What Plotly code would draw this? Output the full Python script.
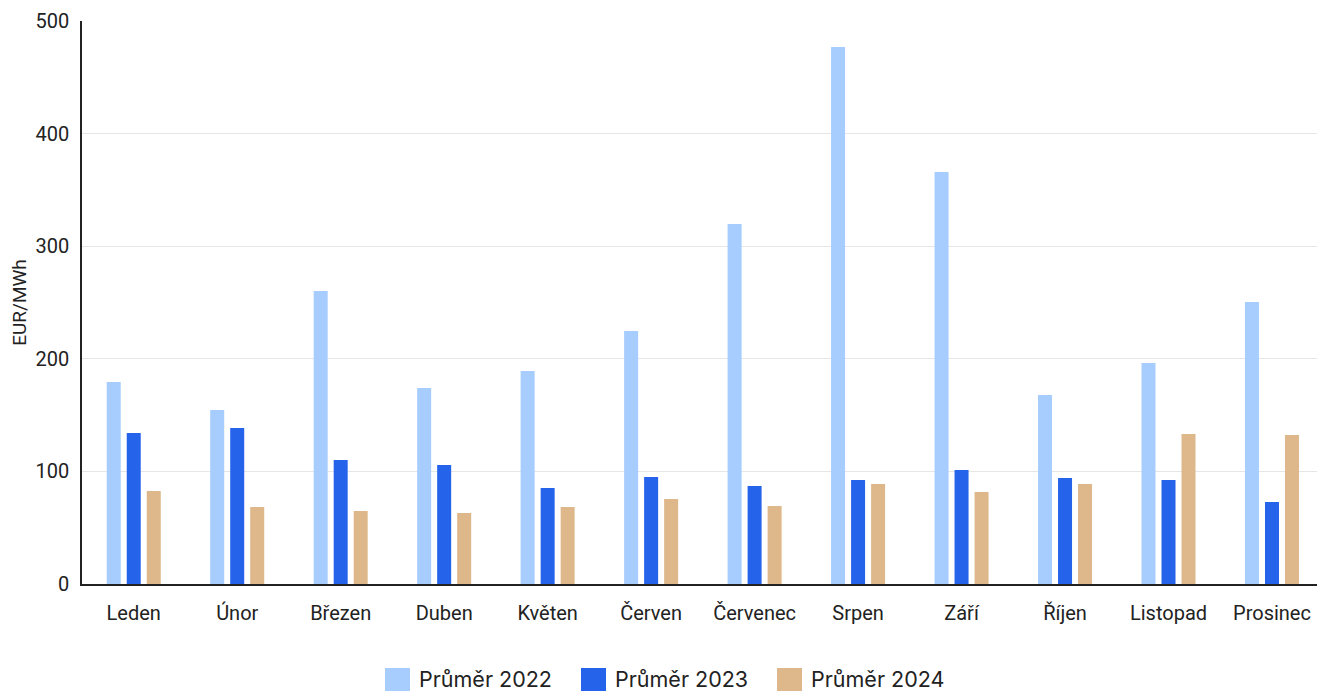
import plotly.graph_objects as go

months = ["Leden", "Únor", "Březen", "Duben", "Květen", "Červen",
          "Červenec", "Srpen", "Září", "Říjen", "Listopad", "Prosinec"]

avg_2022 = [179.4, 154.5, 260.2, 174.1, 189.2, 224.7, 319.7, 477.0, 366.0, 167.9, 196.3, 250.4]
avg_2023 = [134.1, 138.5, 110.1, 105.7, 85.3, 95.0, 87.0, 92.4, 101.2, 94.1, 92.4, 72.8]
avg_2024 = [82.6, 68.4, 64.8, 63.0, 68.4, 75.5, 69.3, 88.8, 81.7, 88.8, 133.2, 132.3]

series_names = ["Průměr 2022", "Průměr 2023", "Průměr 2024"]
series_colors = ["#a6cdfd", "#2563eb", "#deb88b"]
y_ticks = [0, 100, 200, 300, 400, 500]

fig = go.Figure()
for name, vals, col in zip(series_names, [avg_2022, avg_2023, avg_2024], series_colors):
    fig.add_trace(go.Bar(x=months, y=vals, name=name, marker=dict(color=col, line=dict(width=0)),
                         showlegend=False))

# custom legend: large swatches with labels underneath the plot
legend_x = [385, 581, 777]
W, H = 1317, 691
for lx, name, col in zip(legend_x, series_names, series_colors):
    fig.add_shape(type="rect", xref="paper", yref="paper",
                  x0=(lx - 82) / (W - 82), x1=(lx + 25 - 82) / (W - 82),
                  y0=(584 - 692) / (584 - 21), y1=(584 - 668) / (584 - 21),
                  fillcolor=col, line=dict(width=0))
    fig.add_annotation(xref="paper", yref="paper",
                       x=(lx + 33 - 82) / (W - 82), y=(584 - 679) / (584 - 21),
                       xanchor="left", yanchor="middle", showarrow=False, borderpad=0,
                       text=name, font=dict(family="Inter, Noto Sans", size=21.5, color="#222222"))

fig.update_layout(
    width=W, height=H,
    margin=dict(l=82, r=0, t=21, b=107),
    paper_bgcolor="white", plot_bgcolor="white",
    barmode="group", bargap=0.42, bargroupgap=0.3,
    font=dict(family="Roboto", size=20, color="#222222"),
)
fig.update_xaxes(
    type="category", range=[-0.5, 11.435],
    showline=True, linecolor="#222222", linewidth=1.5,
    ticks="", showgrid=False, tickfont=dict(size=20, color="#222222"),
    ticklabelstandoff=10,
)
fig.update_yaxes(
    range=[0, 500], tickvals=y_ticks,
    showline=True, linecolor="#222222", linewidth=1.5,
    showgrid=True, gridcolor="#e6e6e6", gridwidth=1, zeroline=False,
    ticks="", tickfont=dict(size=20, color="#222222"), ticklabelstandoff=7,
    title=dict(text="EUR/MWh", font=dict(size=19, color="#222222"), standoff=4),
)

fig.write_html("out.html")
